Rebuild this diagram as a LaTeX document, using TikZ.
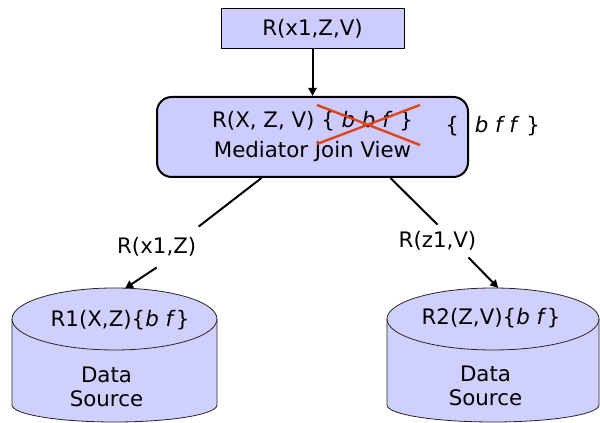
\documentclass[tikz,border=0pt]{standalone}
\usepackage{fontspec}
\setmainfont{DejaVu Sans}
\usetikzlibrary{arrows.meta,calc}
\definecolor{boxfill}{HTML}{CCCCFF}
\definecolor{cylfill}{HTML}{D0D0FF}
\definecolor{crossred}{HTML}{E0441A}

% drum-shaped data store: #1 centre x, #2 half width
\newcommand{\drumbody}[2]{%
  \filldraw[cyl] (#1-#2,319) -- (#1-#2,405)
    arc[start angle=180,end angle=0,x radius=#2,y radius=17]
    -- (#1+#2,319)
    arc[start angle=0,end angle=-180,x radius=#2,y radius=31] -- cycle;
  \draw[cyl,fill=none] (#1-#2,319) arc[start angle=180,end angle=0,x radius=#2,y radius=31];
}

\begin{document}
\begin{tikzpicture}[x=0.75pt,y=-0.75pt,
  every node/.style={font=\fontsize{16pt}{22.5pt}\selectfont},
  topbox/.style={draw=black,line width=0.75pt,fill=boxfill,minimum width=137.25pt,minimum height=30pt,inner sep=0pt},
  mainbox/.style={draw=black,line width=1.5pt,fill=boxfill,rounded corners=11pt,minimum width=233.25pt,minimum height=60pt,align=center,inner sep=0pt},
  cyl/.style={draw=black!85,line width=0.6pt,fill=cylfill},
  conn/.style={line width=1.5pt},
  arr/.style={conn,-{Triangle[length=6pt,width=6pt]}},
  srcfont/.style={font=\fontsize{16pt}{18pt}\selectfont},
]
\useasboundingbox (0,0) rectangle (600,423);

% data sources
\drumbody{114.5}{102.5}
\drumbody{493}{106}
\node[anchor=base,inner sep=0pt] (r1) at (120,326.7) {R1(X,Z)\{\textit{b f}\}};
\node[align=center,inner sep=0pt,srcfont] (ds1) at (106.5,386.5) {Data\\Source};
\node[anchor=base,inner sep=0pt] (r2) at (491,325) {R2(Z,V)\{\textit{b f}\}};
\node[align=center,inner sep=0pt,srcfont] (ds2) at (485.5,385.5) {Data\\Source};
\coordinate (in1) at (125,288.5);
\coordinate (in2) at (498.3,288);

% query and mediator view
\node[topbox] (top) at (312.5,29) {R(x1,Z,V)};
\node[mainbox] (main) at (312.5,137) {R(X, Z, V) \{ \textit{b b f} \}\\Mediator Join View};
\draw[crossred,line width=1.8pt] (317,105) -- (420,145) (317,144) -- (420,105);
\node[anchor=base west,inner sep=0pt] (req) at (445,133) {\{\hspace{0.75em}\textit{b f f} \}};

% sub-query labels
\node[inner xsep=1.6pt,inner ysep=8pt] (lab1) at (156.7,247) {R(x1,Z)};
\node[inner xsep=1.6pt,inner ysep=5pt] (lab2) at (437.5,241) {R(z1,V)};

% connectors
\draw[arr] (top) -- (main);
\draw[conn] ($(main.south west)!0.337!(main.south east)$) -- (lab1.north east);
\draw[arr] (lab1.south) -- (in1);
\draw[conn] ($(main.south west)!0.749!(main.south east)$) -- (lab2.north);
\draw[arr] (lab2.-28) -- (in2);
\end{tikzpicture}
\end{document}
